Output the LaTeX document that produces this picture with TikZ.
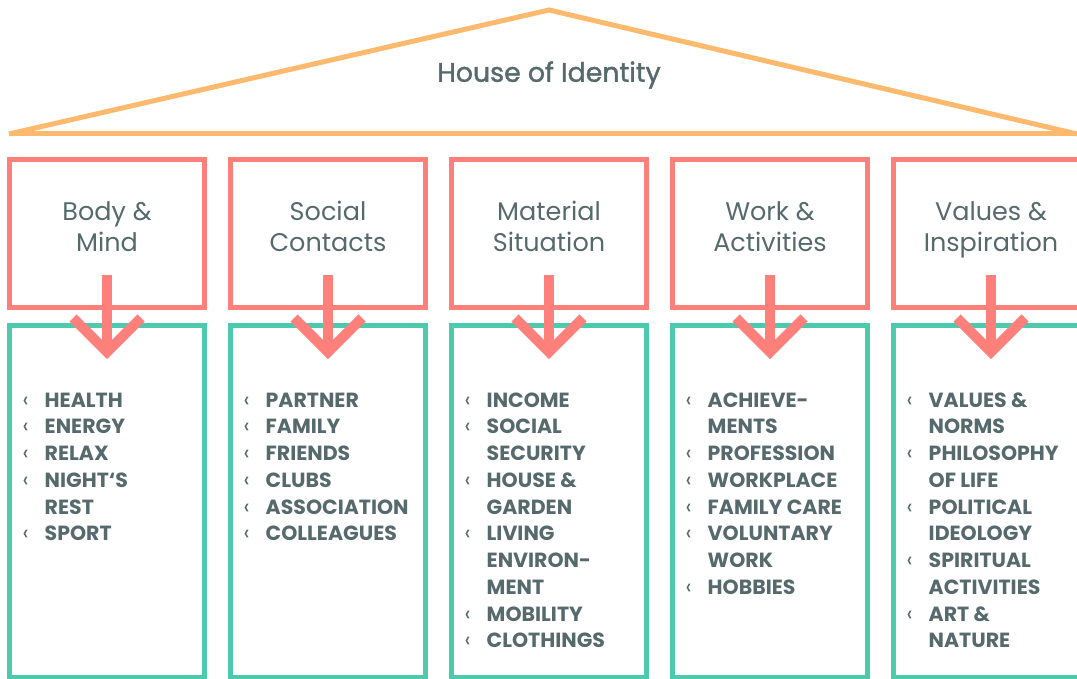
\documentclass[tikz,border=0pt]{standalone}
\usepackage{fontspec}
\setmainfont{Poppins}
\newfontfamily\titlefont[FakeBold=1.4]{Poppins}
\definecolor{roofcol}{RGB}{253,185,110}
\definecolor{pillarcol}{RGB}{255,128,122}
\definecolor{basecol}{RGB}{77,201,173}
\definecolor{txtcol}{RGB}{86,106,110}
\newcommand{\bul}{\makebox[23pt][l]{\hspace{1pt}{\mdseries\fontsize{22}{26.75}\selectfont ‹}}}
\newcommand{\nob}{\makebox[23pt][l]{}}
\newcommand{\firstline}{\rule{0pt}{20pt}}
\begin{document}
\begin{tikzpicture}[x=1pt,y=-1pt,
  roof/.style={draw=roofcol,line width=5pt,line join=miter},
  pillar/.style={draw=pillarcol,line width=5pt,minimum width=195pt,minimum height=148pt,inner sep=0pt,outer sep=0pt},
  base/.style={draw=basecol,line width=5pt,minimum width=195pt,minimum height=351.5pt,inner sep=0pt,outer sep=0pt},
  ptitle/.style={text=txtcol,align=center,anchor=base,font=\fontsize{25.5}{31}\selectfont,inner sep=0pt},
  plist/.style={text=txtcol,align=left,anchor=north west,inner sep=0pt,font=\fontsize{20.5}{26.75}\selectfont\bfseries},
  shaft/.style={draw=pillarcol,line width=10pt},
  chev/.style={draw=pillarcol,line width=10pt,line join=miter}]
\useasboundingbox (0,0) rectangle (1077,679);
% roof
\coordinate (rl) at (9,134);
\coordinate (ra) at (549,10);
\coordinate (rr) at (1077,134);
\draw[roof] (rl) -- (ra) -- (rr);
\draw[roof] (rl) -- (rr);
\node[text=txtcol,font=\fontsize{26.8}{30}\selectfont\titlefont,inner sep=0pt] (title) at (549,75) {House of Identity};
% pillars and foundations
\foreach \i/\x in {1/107,2/328,3/549,4/770,5/991}{
  \node[pillar] (b\i) at (\x,233.5) {};
  \node[base] (t\i) at (\x,501.25) {};
}
\node[ptitle] (h1) at (107,252) {Body \&\\Mind};
\node[ptitle] (h2) at (328,252) {Social\\Contacts};
\node[ptitle] (h3) at (549,252) {Material\\Situation};
\node[ptitle] (h4) at (770,252) {Work \&\\Activities};
\node[ptitle] (h5) at (991,252) {Values \&\\Inspiration};
% arrows
\foreach \i in {1,...,5}{
  \draw[shaft] ([yshift=32.5pt]b\i.south) -- ([yshift=-24pt]t\i.north);
  \coordinate (tip\i) at ([yshift=-26.5pt]t\i.north);
  \draw[chev] (tip\i) ++(-34,-34) -- (tip\i) -- ++(34,-34);
}
% item lists
\node[plist] (l1) at ([xshift=12pt,yshift=-61.5pt]t1.north west) {\firstline\bul HEALTH\\\bul ENERGY\\\bul RELAX\\\bul NIGHT‘S\\\nob REST\\\bul SPORT};
\node[plist] (l2) at ([xshift=12pt,yshift=-61.5pt]t2.north west) {\firstline\bul PARTNER\\\bul FAMILY\\\bul FRIENDS\\\bul CLUBS\\\bul ASSOCIATION\\\bul COLLEAGUES};
\node[plist] (l3) at ([xshift=12pt,yshift=-61.5pt]t3.north west) {\firstline\bul INCOME\\\bul SOCIAL\\\nob SECURITY\\\bul HOUSE \&\\\nob GARDEN\\\bul LIVING\\\nob ENVIRON-\\\nob MENT\\\bul MOBILITY\\\bul CLOTHINGS};
\node[plist] (l4) at ([xshift=12pt,yshift=-61.5pt]t4.north west) {\firstline\bul ACHIEVE-\\\nob MENTS\\\bul PROFESSION\\\bul WORKPLACE\\\bul FAMILY CARE\\\bul VOLUNTARY\\\nob WORK\\\bul HOBBIES};
\node[plist] (l5) at ([xshift=12pt,yshift=-61.5pt]t5.north west) {\firstline\bul VALUES \&\\\nob NORMS\\\bul PHILOSOPHY\\\nob OF LIFE\\\bul POLITICAL\\\nob IDEOLOGY\\\bul SPIRITUAL\\\nob ACTIVITIES\\\bul ART \&\\\nob NATURE};
\end{tikzpicture}
\end{document}
